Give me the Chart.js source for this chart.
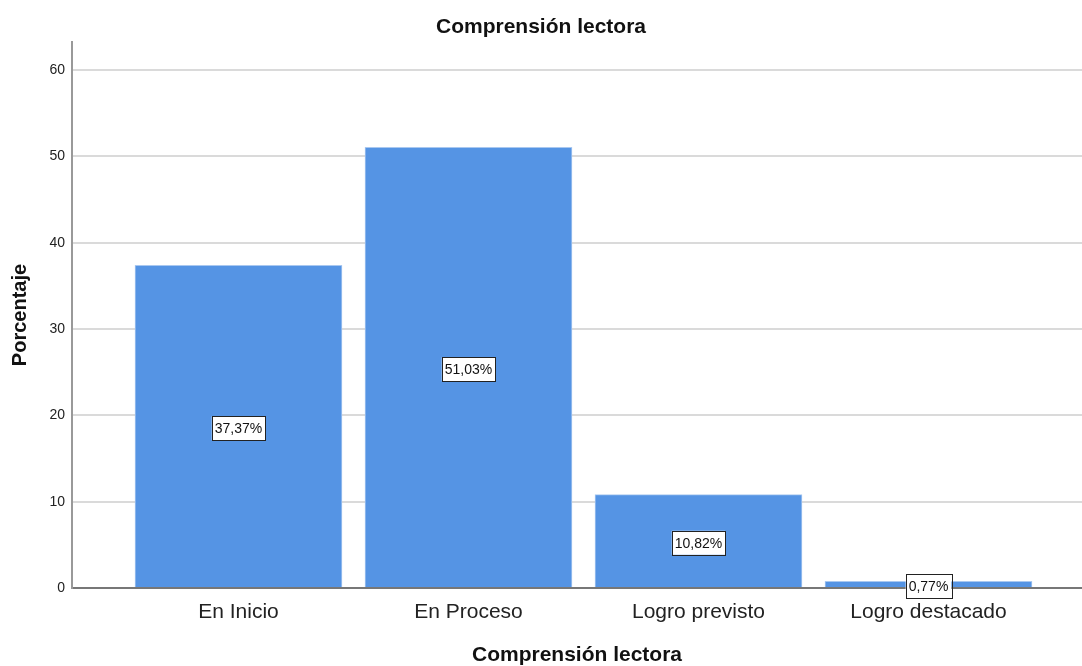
<!DOCTYPE html>
<html>
<head>
<meta charset="utf-8">
<title>Comprensión lectora</title>
<script src="https://cdn.jsdelivr.net/npm/chart.js@4.4.4/dist/chart.umd.min.js"></script>
<style>
    html, body { margin: 0; padding: 0; background: #fff; }
    #wrap { width: 1082px; height: 666px; position: relative; }
</style>
</head>
<body>
<div id="wrap"><canvas id="chart"></canvas></div>
<script>
// Data
const categories = ['En Inicio', 'En Proceso', 'Logro previsto', 'Logro destacado'];
const percentages = [37.37, 51.03, 10.82, 0.77];
const yTicks = [0, 10, 20, 30, 40, 50, 60];

const FONT = '"Liberation Sans", Arial, sans-serif';

// Boxed percentage labels in the middle of each bar
const boxLabels = {
    id: 'boxLabels',
    afterDatasetsDraw(chart) {
        const ctx = chart.ctx;
        const meta = chart.getDatasetMeta(0);
        ctx.save();
        ctx.font = '14px ' + FONT;
        ctx.textAlign = 'center';
        ctx.textBaseline = 'middle';
        meta.data.forEach((bar, i) => {
            const text = percentages[i].toFixed(2).replace('.', ',') + '%';
            const w = ctx.measureText(text).width + 6;
            const h = 24;
            const cx = bar.x;
            const cy = (bar.y + bar.base) / 2 + 2;
            ctx.fillStyle = '#ffffff';
            ctx.fillRect(cx - w / 2, cy - h / 2, w, h);
            ctx.strokeStyle = '#222222';
            ctx.lineWidth = 1;
            ctx.strokeRect(Math.round(cx - w / 2) + 0.5, Math.round(cy - h / 2) + 0.5, Math.round(w), h);
            ctx.fillStyle = '#111111';
            ctx.fillText(text, cx, cy + 1);
        });
        ctx.restore();
    }
};

new Chart(document.getElementById('chart'), {
    type: 'bar',
    data: {
        datasets: [{
            label: 'Porcentaje',
            data: percentages.map((v, i) => ({ x: i + 1, y: v })),
            backgroundColor: '#5594e4',
            borderColor: '#a9c8f0',
            borderWidth: 1,
            barThickness: 207
        }]
    },
    options: {
        responsive: true,
        maintainAspectRatio: false,
        animation: false,
        layout: { padding: 0 },
        plugins: {
            legend: { display: false },
            tooltip: { enabled: false },
            title: {
                display: true,
                text: 'Comprensión lectora',
                color: '#111',
                font: { family: FONT, size: 21, weight: 'bold', lineHeight: 1.2 },
                padding: { top: 15, bottom: 1.8 }
            }
        },
        scales: {
            x: {
                type: 'linear',
                offset: false,
                min: 0.2761,
                max: 4.6674,
                afterBuildTicks: scale => {
                    scale.ticks = categories.map((_, i) => ({ value: i + 1 }));
                },
                afterFit: scale => { scale.height = 78; },
                grid: { display: false, drawTicks: false, offset: false },
                border: { display: true, color: '#777', width: 2 },
                ticks: {
                    autoSkip: false,
                    maxRotation: 0,
                    padding: 12,
                    color: '#222',
                    font: { family: FONT, size: 21 },
                    callback: v => categories[v - 1]
                },
                title: {
                    display: true,
                    text: 'Comprensión lectora',
                    color: '#111',
                    font: { family: FONT, size: 21, weight: 'bold', lineHeight: 1 },
                    padding: { top: 0, bottom: 0 }
                }
            },
            y: {
                min: 0,
                max: 63.24,
                afterBuildTicks: scale => {
                    scale.ticks = yTicks.map(v => ({ value: v }));
                },
                afterFit: scale => { scale.width = 72; },
                grid: { color: '#dadada', lineWidth: 2, drawTicks: false },
                border: { display: true, color: '#999', width: 2 },
                ticks: {
                    padding: 7,
                    color: '#222',
                    font: { family: FONT, size: 14 }
                },
                title: {
                    display: true,
                    text: 'Porcentaje',
                    color: '#111',
                    font: { family: FONT, size: 20, weight: 'bold', lineHeight: 1 },
                    padding: { top: 10, bottom: 0 }
                }
            }
        }
    },
    plugins: [boxLabels]
});
</script>
</body>
</html>
